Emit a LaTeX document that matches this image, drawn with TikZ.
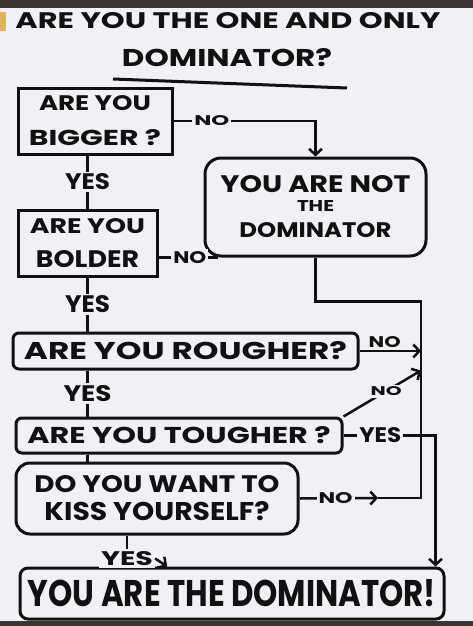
\documentclass[tikz,border=0pt]{standalone}
\usepackage{fontspec}
\setmainfont{Poppins}
\usepackage{graphicx}
\usepackage{xcolor}
\usetikzlibrary{positioning,calc,arrows.meta}

\definecolor{paper}{HTML}{F1F1F5}
\definecolor{frame}{HTML}{3A3532}
\definecolor{tape}{HTML}{E3B455}
\definecolor{ink}{HTML}{111111}

% hand lettering: width, cap height, text
\newcommand{\hw}[3]{\resizebox{#1pt}{#2pt}{\bfseries #3}}

\begin{document}
\begin{tikzpicture}[x=1pt, y=-1pt, ink,
  qbox/.style={draw=ink, line width=3pt, inner sep=0pt, align=center, text=ink},
  rbox/.style={qbox, rounded corners=#1},
  conn/.style={draw=ink, line width=2.5pt},
  arr/.style={-{Straight Barb[length=6pt,width=13pt]}},
  lbl/.style={fill=paper, inner sep=2pt, text=ink}]
  \useasboundingbox (0,0) rectangle (473,626);

  % Paper and photo edges
  \fill[paper] (0,0) rectangle (473,626);
  \fill[frame] (0,0) rectangle (473,8);
  \fill[frame] (0,621) rectangle (473,626);
  \fill[tape] (0,12) rectangle (6,31);

  % Title
  \node (title1) at (228,21) {\hw{425}{16}{ARE YOU THE ONE AND ONLY}};
  \node (title2) at (227,58) {\hw{210}{18}{DOMINATOR?}};
  \draw[line width=3pt] (113,79) -- (347,88);

  % Question boxes
  \node[qbox, minimum width=154, minimum height=66, font=\fontsize{10}{35}\selectfont] (q1) at (95,121)
    {\hw{112}{15}{ARE YOU}\\\hw{132}{16}{BIGGER ?}};
  \node[rbox=16pt, minimum width=221, minimum height=98, font=\fontsize{10}{22}\selectfont] (notdom) at (315.5,207)
    {\hw{190}{17}{YOU ARE NOT}\\[-3pt]\hw{37}{11}{THE}\\[4pt]\hw{152}{15}{DOMINATOR}};
  \node[qbox, minimum width=139, minimum height=66, font=\fontsize{10}{34}\selectfont] (q2) at (87.5,243)
    {\hw{115}{15}{ARE YOU}\\\hw{103}{17}{BOLDER}};
  \node[rbox=6pt, minimum width=345, minimum height=36] (q3) at (185.5,351)
    {\hw{323}{18}{ARE YOU ROUGHER?}};
  \node[rbox=6pt, minimum width=326, minimum height=35] (q4) at (179,435.5)
    {\hw{303}{17}{ARE YOU TOUGHER ?}};
  \node[rbox=14pt, minimum width=282, minimum height=71, font=\fontsize{10}{28}\selectfont] (q5) at (157,498.5)
    {\hw{245}{17}{DO YOU WANT TO}\\\hw{225}{19}{KISS YOURSELF?}};
  \node[rbox=8pt, minimum width=424, minimum height=51] (dom) at (232,593.5)
    {\hw{408}{27}{YOU ARE THE DOMINATOR!}};

  % Free ends of the NO trunk
  \coordinate (nojoin) at (421,498);
  \coordinate (notip) at (378,498);

  % YES chain
  \draw[conn] (q1.south -| q2.north) -- node[lbl] {\hw{45}{16}{YES}} (q2.north);
  \draw[conn] (q2.south) -- node[lbl] {\hw{45}{17}{YES}} (q2.south |- q3.north);
  \draw[conn] (q2.south |- q3.south) -- node[lbl] {\hw{48}{16}{YES}} (q2.south |- q4.north);
  \draw[conn] (q2.south |- q4.south) -- (q2.south |- q5.north);
  \node[lbl] (y5) at ($(q5.south)+(-30,23)$) {\hw{52}{14}{YES}};
  \draw[conn] (q5.south -| y5.north) -- (y5.north);
  \draw[conn, arr] (y5.east) -- ($(y5.east |- dom.north)+(12,0)$);

  % NO branches
  \draw[conn, arr] (q1.east) -- node[lbl, pos=.27] {\hw{35}{10}{NO}} (q1.east -| notdom.north) -- (notdom.north);
  \draw[conn] (q2.east |- notdom.south) -- node[lbl, pos=.53] {\hw{33}{12}{NO}} ($(notdom.south west)+(14,0)$);
  \draw[conn] (notdom.south) -- ++(0,44) -| (nojoin) -- (notip);
  \draw[conn, arr] (q3.east) -- node[lbl, above, pos=.41] {\hw{32}{11}{NO}} (q3.east -| nojoin);
  \draw[conn, arr] (q4.north east) -- node[lbl, pos=.55] {\hw{31}{9}{NO}} ($(q4.north east -| nojoin)+(0,-46)$);
  \draw[conn, arr] (q5.east) -- node[lbl, pos=.46] {\hw{34}{11}{NO}} (notip);

  % YES past the trunk
  \draw[conn, arr] (q4.east) -- node[lbl, pos=.4] {\hw{42}{15}{YES}} ++(92,0) -- ($(dom.north east)+(-10,0)$);
\end{tikzpicture}
\end{document}
